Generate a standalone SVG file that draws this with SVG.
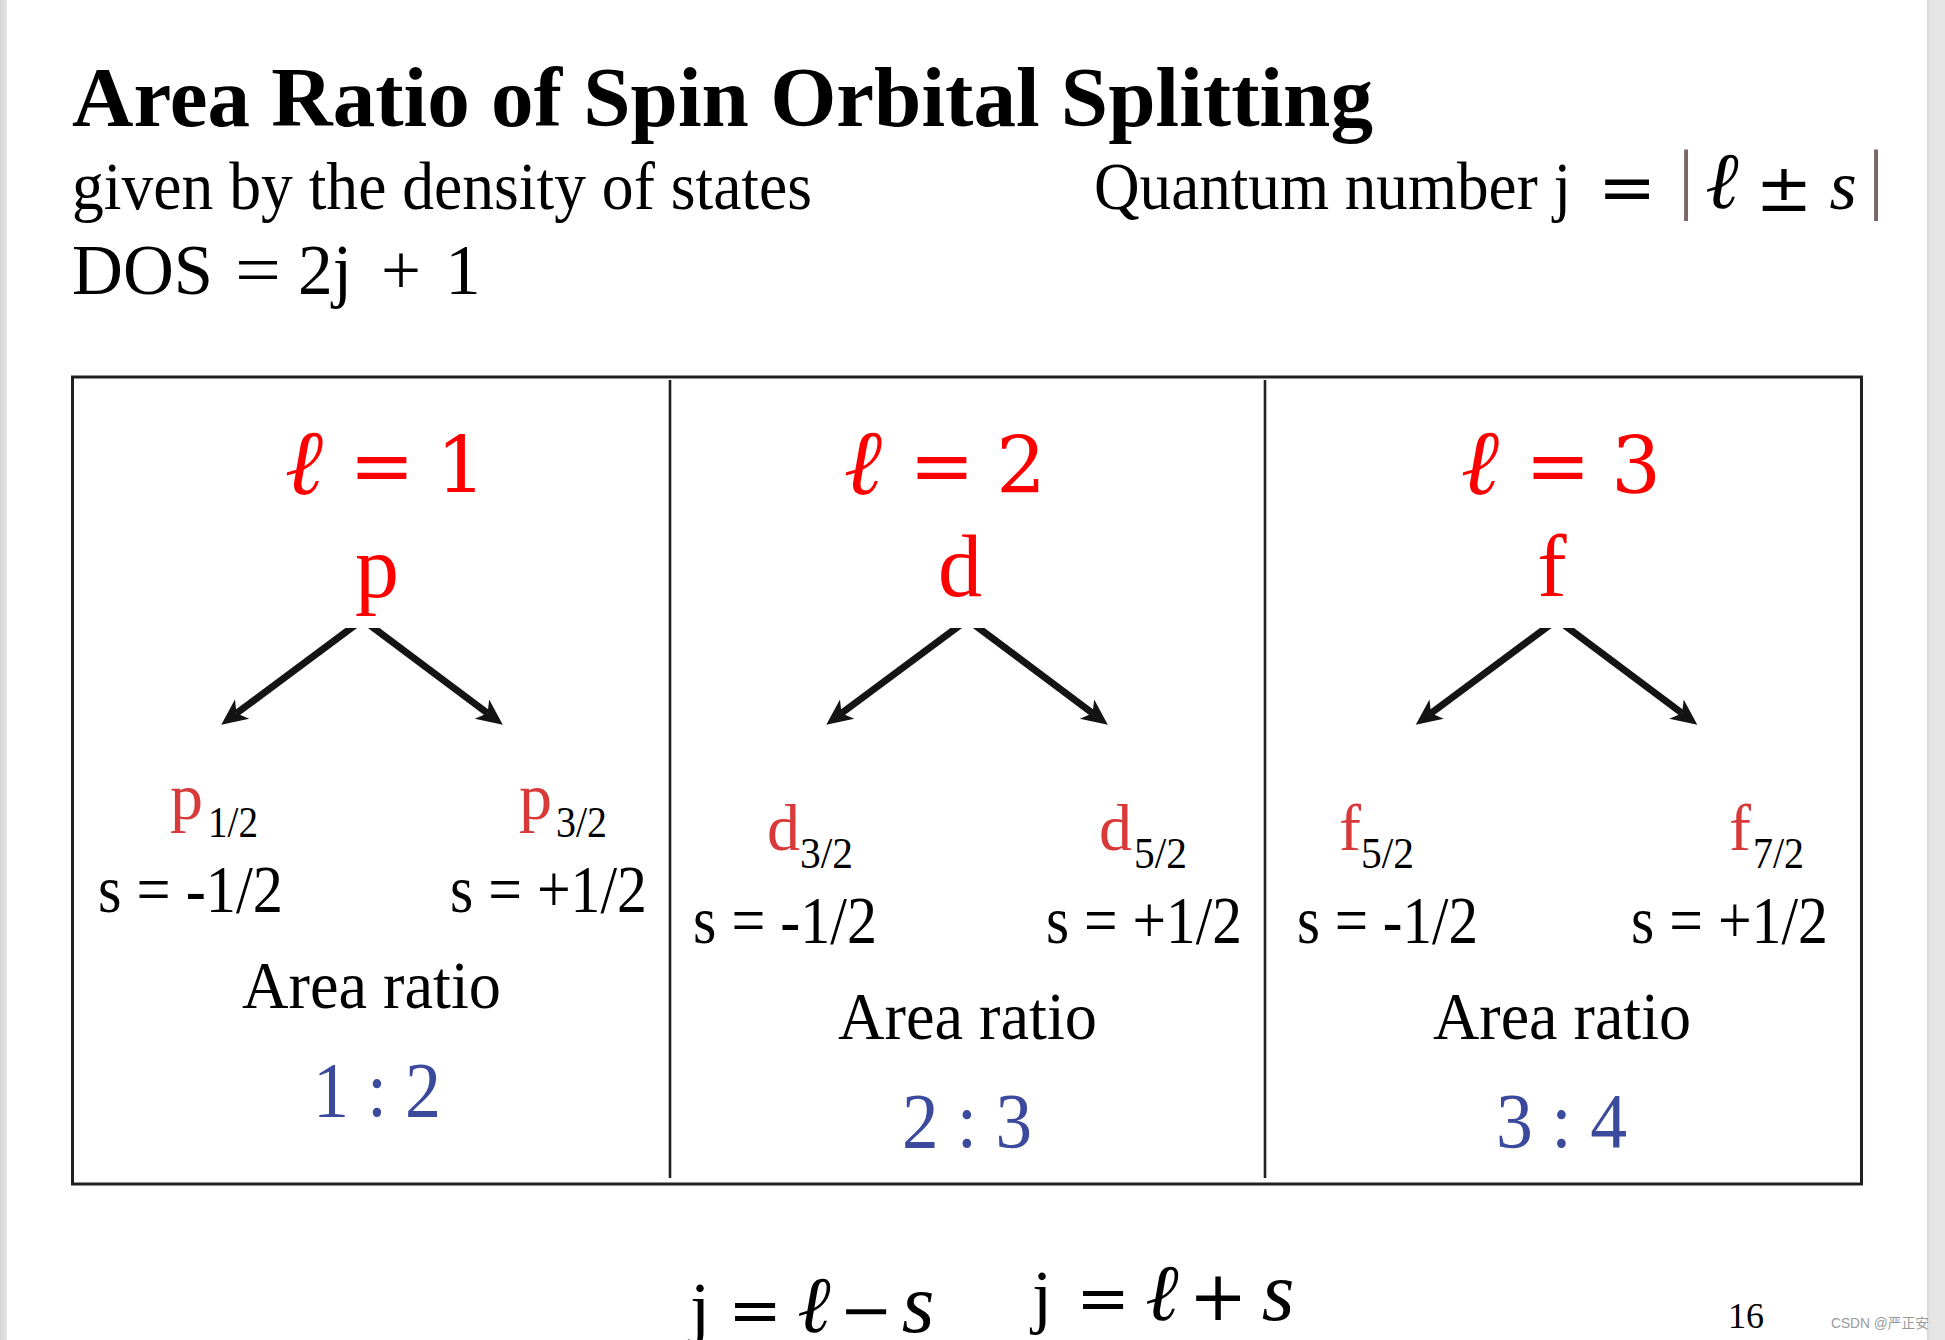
<svg xmlns="http://www.w3.org/2000/svg" width="1945" height="1340" viewBox="0 0 1945 1340">
<style>
.serif{font-family:"Liberation Serif","Times New Roman",serif}
.dv{font-family:"DejaVu Serif",serif}
.ell{font-family:"DejaVu Serif",serif;font-style:italic}
.it{font-family:"Liberation Serif","Times New Roman",serif;font-style:italic}
.red{fill:#ff0000}
.lbl{fill:#d83a3a}
.blue{fill:#3c4a9d}
.mid{text-anchor:middle}
.box{fill:none;stroke:#231f20;stroke-width:3}
.sep{stroke:#231f20;stroke-width:2.6}
.arrow{stroke:#141414;stroke-width:7;fill:none;marker-end:url(#ah)}
</style>
<defs>
<marker id="ah" markerUnits="userSpaceOnUse" markerWidth="40" markerHeight="40" viewBox="-10 -15 40 30" refX="0" refY="0" orient="auto">
<path d="M19,0 L-7,-12 L0,0 L-7,12 Z" fill="#141414"/>
</marker>
<clipPath id="cut"><rect x="0" y="628" width="1945" height="200"/></clipPath>
<linearGradient id="edgeL" x1="0" x2="1" y1="0" y2="0"><stop offset="0" stop-color="#d4d4d4"/><stop offset="1" stop-color="#e6e6e6"/></linearGradient>
<linearGradient id="edgeR" x1="0" x2="1" y1="0" y2="0"><stop offset="0" stop-color="#d8d8d8"/><stop offset="0.2" stop-color="#e4e4e4"/><stop offset="1" stop-color="#e6e6e6"/></linearGradient>
</defs>
<rect x="0" y="0" width="1945" height="1340" fill="#ffffff"/>
<rect x="0" y="0" width="7" height="1340" fill="url(#edgeL)"/>
<rect x="1927" y="0" width="18" height="1340" fill="url(#edgeR)"/>

<g id="header">
<text class="serif" x="72" y="126" font-size="85" font-weight="bold" textLength="1301" lengthAdjust="spacingAndGlyphs">Area Ratio of Spin Orbital Splitting</text>
<text class="serif" x="72" y="209" font-size="67" textLength="740" lengthAdjust="spacingAndGlyphs">given by the density of states</text>
<text class="serif" x="1094" y="209" font-size="67" textLength="477" lengthAdjust="spacingAndGlyphs">Quantum number j</text>
<text class="dv mid" x="1627" y="211" font-size="70">=</text>
<text class="serif mid" x="1686" y="204" font-size="78" fill="#7a6666">|</text>
<text class="ell mid" x="1722" y="208" font-size="80">ℓ</text>
<text class="dv mid" x="1784" y="211" font-size="68">±</text>
<text class="it mid" x="1843" y="209" font-size="70">s</text>
<text class="serif mid" x="1876" y="204" font-size="78" fill="#7a6666">|</text>
<text class="serif" x="72" y="294" font-size="71" textLength="141" lengthAdjust="spacingAndGlyphs">DOS</text>
<text class="serif mid" x="258" y="294" font-size="71" textLength="46" lengthAdjust="spacingAndGlyphs">=</text>
<text class="serif" x="298" y="294" font-size="71" textLength="54" lengthAdjust="spacingAndGlyphs">2j</text>
<text class="serif mid" x="401" y="294" font-size="71" textLength="40" lengthAdjust="spacingAndGlyphs">+</text>
<text class="serif mid" x="463" y="294" font-size="71">1</text>
</g>

<g id="frame">
<rect class="box" x="72.5" y="377" width="1789" height="807"/>
<line class="sep" x1="670" y1="380" x2="670" y2="1178"/>
<line class="sep" x1="1265" y1="380" x2="1265" y2="1178"/>
</g>

<g id="panel-p">
<text class="ell red mid" x="304" y="494" font-size="92">ℓ</text>
<text class="dv red mid" x="382" y="493" font-size="78">=</text>
<text class="dv red mid" x="461" y="493" font-size="78">1</text>
<text class="serif red mid" x="377" y="597" font-size="88">p</text>
<text class="serif lbl" x="170" y="819" font-size="66">p</text>
<text class="serif" x="208" y="837" font-size="45" textLength="50" lengthAdjust="spacingAndGlyphs">1/2</text>
<text class="serif lbl" x="519" y="819" font-size="66">p</text>
<text class="serif" x="556" y="837" font-size="45" textLength="51" lengthAdjust="spacingAndGlyphs">3/2</text>
<text class="serif" x="98" y="912" font-size="67" textLength="185" lengthAdjust="spacingAndGlyphs">s = -1/2</text>
<text class="serif" x="450" y="912" font-size="67" textLength="197" lengthAdjust="spacingAndGlyphs">s = +1/2</text>
<text class="serif" x="242" y="1008" font-size="68" textLength="259" lengthAdjust="spacingAndGlyphs">Area ratio</text>
<text class="serif blue" x="313" y="1116" font-size="78" textLength="128" lengthAdjust="spacingAndGlyphs">1 : 2</text>
</g>

<g id="panel-d">
<text class="ell red mid" x="863" y="494" font-size="92">ℓ</text>
<text class="dv red mid" x="942" y="493" font-size="78">=</text>
<text class="dv red mid" x="1021" y="493" font-size="78">2</text>
<text class="serif red mid" x="960" y="596" font-size="88">d</text>
<text class="serif lbl" x="767" y="850" font-size="66">d</text>
<text class="serif" x="800" y="868" font-size="45" textLength="53" lengthAdjust="spacingAndGlyphs">3/2</text>
<text class="serif lbl" x="1099" y="850" font-size="66">d</text>
<text class="serif" x="1134" y="868" font-size="45" textLength="53" lengthAdjust="spacingAndGlyphs">5/2</text>
<text class="serif" x="693" y="943" font-size="67" textLength="184" lengthAdjust="spacingAndGlyphs">s = -1/2</text>
<text class="serif" x="1046" y="943" font-size="67" textLength="196" lengthAdjust="spacingAndGlyphs">s = +1/2</text>
<text class="serif" x="838" y="1039" font-size="68" textLength="259" lengthAdjust="spacingAndGlyphs">Area ratio</text>
<text class="serif blue" x="902" y="1147" font-size="78" textLength="130" lengthAdjust="spacingAndGlyphs">2 : 3</text>
</g>

<g id="panel-f">
<text class="ell red mid" x="1480" y="494" font-size="92">ℓ</text>
<text class="dv red mid" x="1558" y="493" font-size="78">=</text>
<text class="dv red mid" x="1636" y="493" font-size="78">3</text>
<text class="serif red mid" x="1552" y="596" font-size="88">f</text>
<text class="serif lbl" x="1339" y="850" font-size="66">f</text>
<text class="serif" x="1361" y="868" font-size="45" textLength="53" lengthAdjust="spacingAndGlyphs">5/2</text>
<text class="serif lbl" x="1729" y="850" font-size="66">f</text>
<text class="serif" x="1753" y="868" font-size="45" textLength="51" lengthAdjust="spacingAndGlyphs">7/2</text>
<text class="serif" x="1297" y="943" font-size="67" textLength="181" lengthAdjust="spacingAndGlyphs">s = -1/2</text>
<text class="serif" x="1631" y="943" font-size="67" textLength="197" lengthAdjust="spacingAndGlyphs">s = +1/2</text>
<text class="serif" x="1433" y="1039" font-size="68" textLength="258" lengthAdjust="spacingAndGlyphs">Area ratio</text>
<text class="serif blue" x="1496" y="1147" font-size="78" textLength="131" lengthAdjust="spacingAndGlyphs">3 : 4</text>
</g>

<g id="connectors" clip-path="url(#cut)">
<line class="arrow" x1="358" y1="623" x2="236.5" y2="713.3"/>
<line class="arrow" x1="367" y1="623" x2="487.6" y2="713.3"/>
<line class="arrow" x1="963" y1="623" x2="841.5" y2="713.3"/>
<line class="arrow" x1="972" y1="623" x2="1092.6" y2="713.3"/>
<line class="arrow" x1="1552.5" y1="623" x2="1431" y2="713.3"/>
<line class="arrow" x1="1561.5" y1="623" x2="1682.1" y2="713.3"/>
</g>

<g id="footer">
<text class="serif mid" x="700" y="1332" font-size="72">j</text>
<text class="dv mid" x="755" y="1332" font-size="64">=</text>
<text class="ell mid" x="814" y="1332" font-size="80">ℓ</text>
<text class="dv mid" x="866" y="1332" font-size="64">−</text>
<text class="it mid" x="918" y="1332" font-size="84">s</text>
<text class="serif mid" x="1042" y="1320" font-size="72">j</text>
<text class="dv mid" x="1103" y="1320" font-size="64">=</text>
<text class="ell mid" x="1162" y="1320" font-size="80">ℓ</text>
<text class="dv mid" x="1218" y="1320" font-size="70">+</text>
<text class="it mid" x="1278" y="1320" font-size="84">s</text>
<text class="serif" x="1728" y="1328" font-size="36">16</text>
<text x="1831" y="1328" font-size="14" fill="#9a9a9a" font-family="'Liberation Sans','Noto Sans CJK SC',sans-serif" textLength="98" lengthAdjust="spacingAndGlyphs">CSDN @严正安</text>
</g>
</svg>
